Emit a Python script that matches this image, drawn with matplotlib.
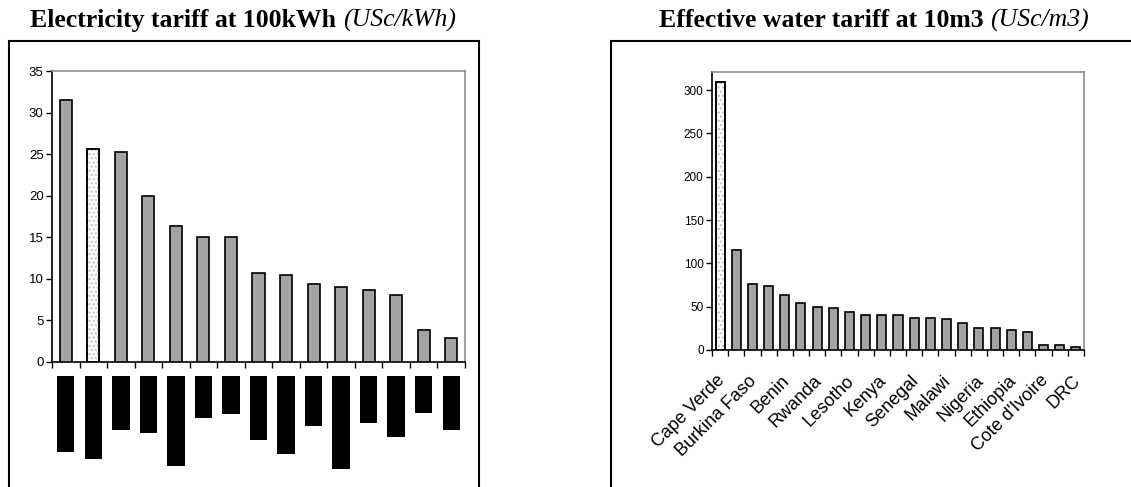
import matplotlib.pyplot as plt
from matplotlib.patches import Rectangle
import matplotlib.transforms as mtransforms
import numpy as np

# electricity tariff at 100kWh (USc/kWh), labels redacted in the source
elec_values = [31.5, 25.6, 25.2, 20.0, 16.3, 15.0, 15.0, 10.7, 10.5, 9.4, 9.0, 8.6, 8.0, 3.9, 2.9]
elec_white = 1  # index of the dotted bar
# length of the black redaction blocks under each bar (pixels)
elec_redact = [76, 83, 54, 57, 90, 42, 38, 64, 78, 50, 93, 47, 61, 37, 54]

# effective water tariff at 10m3 (USc/m3)
water_values = [310, 115, 76, 74, 64, 54, 50, 48, 44, 40, 40, 40, 37, 37, 36,
                31, 25, 25, 23, 21, 6, 6, 4]
water_white = 0
water_labels = ["Cape Verde", "Burkina Faso", "Benin", "Rwanda", "Lesotho", "Kenya",
                "Senegal", "Malawi", "Nigeria", "Ethiopia", "Cote d'Ivoire", "DRC"]

W, H = 1131, 487
fig = plt.figure(figsize=(W / 100, H / 100), dpi=100)
fig.patch.set_facecolor("white")

BAR_GREY = "#a3a3a3"


def fx(px):
    return px / W


def fy(py):
    return 1 - py / H


def bars(ax, values, white, width):
    x = np.arange(len(values))
    cols = [BAR_GREY] * len(values)
    cols[white] = "white"
    ax.bar(x, values, width=width, color=cols, edgecolor="black", linewidth=1.2, zorder=3)
    # dotted fill of the highlighted bar
    ax.bar(x[white], values[white], width=width, color="none", edgecolor="#c0c0c0",
           hatch="....", linewidth=0, zorder=4)
    ax.bar(x[white], values[white], width=width, color="none", edgecolor="black",
           linewidth=1.2, zorder=5)
    ax.set_xlim(-0.5, len(values) - 0.5)
    ax.set_xticks(np.arange(len(values) + 1) - 0.5, minor=True)
    ax.tick_params(axis="x", which="minor", length=4, width=1, direction="out")
    ax.tick_params(axis="x", which="major", length=0)
    ax.tick_params(axis="y", length=4, width=1, direction="out", pad=2)
    ax.spines["left"].set_color("black")
    ax.spines["bottom"].set_color("black")
    ax.spines["top"].set_color("#8c8c8c")
    ax.spines["right"].set_color("#8c8c8c")
    for s in ax.spines.values():
        s.set_linewidth(1.2)


# outer frames
fig.patches.append(Rectangle((fx(9), fy(495)), fx(479) - fx(9), fy(41) - fy(495),
                             transform=fig.transFigure, fill=False, edgecolor="black",
                             linewidth=1.5, clip_on=False))
fig.patches.append(Rectangle((fx(611), fy(495)), fx(1140) - fx(611), fy(41) - fy(495),
                             transform=fig.transFigure, fill=False, edgecolor="black",
                             linewidth=1.5, clip_on=False))

# left panel
ax1 = fig.add_axes([fx(52), fy(362), fx(465) - fx(52), fy(71) - fy(362)])
bars(ax1, elec_values, elec_white, 0.44)
ax1.set_ylim(0, 35)
ax1.set_yticks(range(0, 36, 5))
ax1.set_xticks(np.arange(len(elec_values)))
ax1.set_xticklabels([])
for lab in ax1.get_yticklabels():
    lab.set_fontfamily("Liberation Sans")
    lab.set_fontsize(9.5)

# redacted category labels
axr = fig.add_axes([fx(52), fy(476), fx(465) - fx(52), fy(376) - fy(476)])
axr.bar(np.arange(len(elec_redact)), elec_redact, width=0.63, color="black")
axr.set_xlim(-0.5, len(elec_redact) - 0.5)
axr.set_ylim(100, 0)
axr.axis("off")

# right panel
ax2 = fig.add_axes([fx(712), fy(350), fx(1084) - fx(712), fy(72) - fy(350)])
bars(ax2, water_values, water_white, 0.56)
ax2.set_ylim(0, 321)
ax2.set_yticks(range(0, 301, 50))
ax2.set_xticks(np.arange(0, len(water_values), 2))
ax2.set_xticklabels(water_labels, rotation=45, ha="right", va="top",
                    rotation_mode="anchor", fontfamily="Liberation Sans", fontsize=13)
ax2.tick_params(axis="x", which="major", pad=16)
shift = mtransforms.ScaledTranslation(-4 / 100, 0, fig.dpi_scale_trans)
for lab in ax2.get_xticklabels():
    lab.set_transform(lab.get_transform() + shift)
for lab in ax2.get_yticklabels():
    lab.set_fontfamily("Liberation Sans")
    lab.set_fontsize(8.5)


# titles
def title(xc, bold, ital):
    t = fig.text(0, 0, bold + " ", fontfamily="Liberation Serif", fontweight="bold",
                 fontsize=18.5)
    t2 = fig.text(0, 0, ital, fontfamily="Liberation Serif", fontstyle="italic",
                  fontsize=18.5)
    fig.canvas.draw()
    r = fig.canvas.get_renderer()
    w1 = t.get_window_extent(r).width
    w2 = t2.get_window_extent(r).width
    x0 = xc - (w1 + w2) / 2
    y = H - 27
    t.set_position((x0 / W, y / H))
    t2.set_position(((x0 + w1) / W, y / H))


title(243, "Electricity tariff at 100kWh", "(USc/kWh)")
title(874, "Effective water tariff at 10m3", "(USc/m3)")

fig.savefig("out.png", dpi=100, facecolor="white")
